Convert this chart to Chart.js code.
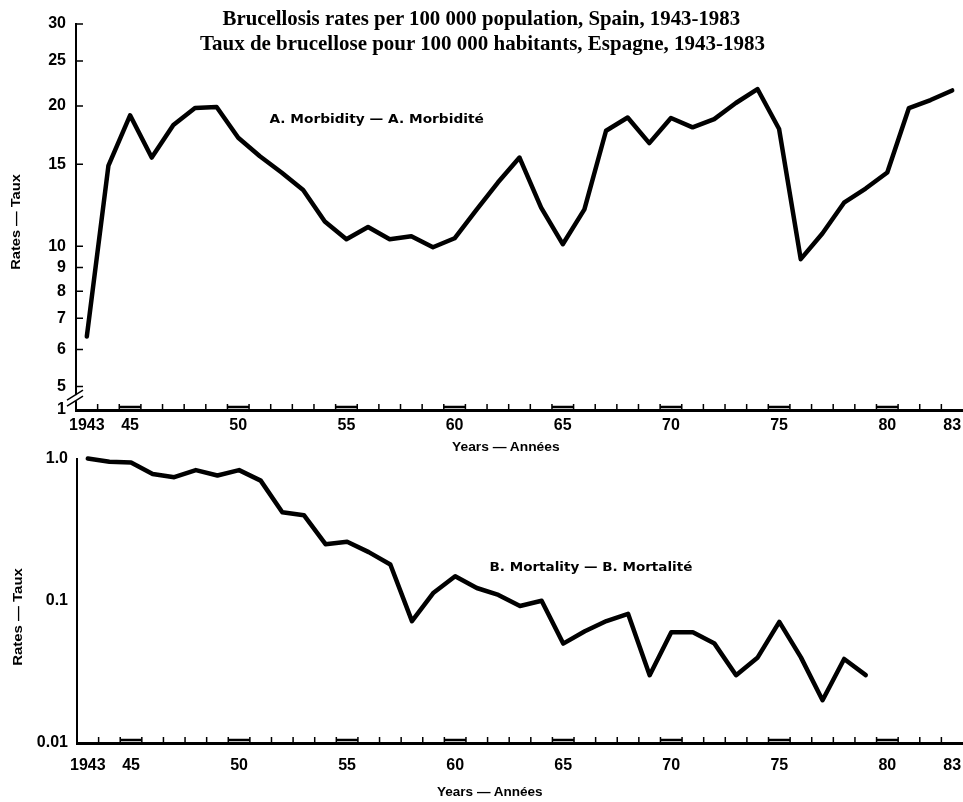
<!DOCTYPE html>
<html>
<head>
<meta charset="utf-8">
<script src="https://cdn.jsdelivr.net/npm/chart.js@4.4.0/dist/chart.umd.min.js"></script>
<style>
  body { margin: 0; background: #fff; }
  #page { position: relative; width: 963px; height: 802px; overflow: hidden; }
  .txt { position: absolute; white-space: nowrap; color: #000; transform-origin: 50% 50%; line-height: 1; }
  .title { font: bold 22px "Liberation Serif", serif; }
  .note { font: bold 12px "DejaVu Sans", sans-serif; }
  .axis { font: bold 12px "Liberation Sans", sans-serif; }
  canvas { position: absolute; left: 0; }
</style>
</head>
<body>
<div id="page">
  <canvas id="morbChart" width="963" height="440" style="top:0"></canvas>
  <canvas id="mortChart" width="963" height="362" style="top:440px"></canvas>
  <div class="txt title" id="title1">Brucellosis rates per 100 000 population, Spain, 1943-1983</div>
  <div class="txt title" id="title2">Taux de brucellose pour 100 000 habitants, Espagne, 1943-1983</div>
  <div class="txt note" id="noteA">A. Morbidity — A. Morbidité</div>
  <div class="txt note" id="noteB">B. Mortality — B. Mortalité</div>
  <div class="txt axis" id="yearsA">Years — Années</div>
  <div class="txt axis" id="yearsB">Years — Années</div>
  <div class="txt axis" id="ratesA">Rates — Taux</div>
  <div class="txt axis" id="ratesB">Rates — Taux</div>
</div>
<script>
'use strict';

let years = [1943, 1944, 1945, 1946, 1947, 1948, 1949, 1950, 1951, 1952,
  1953, 1954, 1955, 1956, 1957, 1958, 1959, 1960, 1961, 1962,
  1963, 1964, 1965, 1966, 1967, 1968, 1969, 1970, 1971, 1972,
  1973, 1974, 1975, 1976, 1977, 1978, 1979, 1980, 1981, 1982, 1983];

// A. morbidity per 100 000, 1943-1983
let morbidity = [6.4, 14.9, 19.1, 15.5, 18.2, 19.8, 19.9, 17.1, 15.6, 14.4,
  13.2, 11.3, 10.35, 11.0, 10.35, 10.5, 9.95, 10.4, 11.95, 13.7,
  15.5, 12.1, 10.1, 12.0, 17.7, 18.9, 16.65, 18.85, 18.0, 18.75,
  20.3, 21.75, 17.85, 9.38, 10.65, 12.4, 13.3, 14.4, 19.8, 20.6, 21.6];

// B. mortality per 100 000, 1943-1979
let mortality = [1.0, 0.95, 0.94, 0.78, 0.74, 0.83, 0.76, 0.83, 0.70, 0.42,
  0.40, 0.25, 0.26, 0.22, 0.18, 0.072, 0.114, 0.149, 0.123, 0.110,
  0.092, 0.10, 0.050, 0.061, 0.072, 0.081, 0.030, 0.060, 0.060, 0.050,
  0.030, 0.040, 0.071, 0.040, 0.020, 0.039, 0.030];

let yearTicks = [1943, 1945, 1950, 1955, 1960, 1965, 1970, 1975, 1980, 1983];
let morbTicks = [5, 6, 7, 8, 9, 10, 15, 20, 25, 30];
let morbBreakLabel = '1';
let mortTicks = [0.01, 0.1, 1];
let mortLabels = ['0.01', '0.1', '1.0'];

let tickFont = { family: 'Liberation Sans', weight: 'bold', size: 16 };

function yearLabel(v){
  return v === 1943 ? '1943' : String(v).slice(2);
}

// small inside ticks, 5-year brackets and the axis break
let decor = {
  id: 'decor',
  afterDraw(chart, args, o){
    let ctx = chart.ctx;
    let a = chart.chartArea;
    let x = chart.scales.x;
    let y = chart.scales.y;
    ctx.save();
    ctx.strokeStyle = '#000';
    ctx.lineWidth = 1.5;
    ctx.beginPath();
    years.slice(0, -1).forEach(yr => {
      let px = x.getPixelForValue(yr + 0.5);
      ctx.moveTo(px, a.bottom);
      ctx.lineTo(px, a.bottom - o.tick);
    });
    ctx.stroke();

    ctx.lineWidth = 2.5;
    ctx.beginPath();
    yearTicks.slice(1, -1).forEach(yr => {
      ctx.moveTo(x.getPixelForValue(yr - 0.5), a.bottom - 3);
      ctx.lineTo(x.getPixelForValue(yr + 0.5), a.bottom - 3);
    });
    ctx.stroke();

    if (o.yTicks){
      ctx.lineWidth = 1.5;
      ctx.beginPath();
      o.yTicks.forEach(v => {
        let py = y.getPixelForValue(v);
        ctx.moveTo(a.left, py);
        ctx.lineTo(a.left + 7, py);
      });
      ctx.stroke();
    }

    if (o.breakAt){
      let py = y.getPixelForValue(o.breakAt);
      ctx.strokeStyle = '#fff';
      ctx.lineWidth = 5;
      ctx.beginPath();
      ctx.moveTo(a.left, py - 3);
      ctx.lineTo(a.left, py + 3);
      ctx.stroke();
      ctx.strokeStyle = '#000';
      ctx.lineWidth = 1.5;
      ctx.beginPath();
      [-3, 3].forEach(d => {
        ctx.moveTo(a.left - 9, py + d + 5);
        ctx.lineTo(a.left + 7, py + d - 5);
      });
      ctx.stroke();
    }
    ctx.restore();
  }
};

function xScale(labelPad, axisHeight){
  return {
    type: 'linear',
    min: 1942.5,
    max: 1983.5,
    afterBuildTicks: s => { s.ticks = yearTicks.map(v => ({ value: v })); },
    afterFit: s => {
      s.height = axisHeight;
      s.paddingLeft = 0;
      s.paddingRight = 0;
    },
    grid: { display: false, drawTicks: false },
    border: { display: true, color: '#000', width: 3 },
    ticks: {
      callback: yearLabel,
      font: tickFont,
      color: '#000',
      padding: labelPad,
      maxRotation: 0,
      autoSkip: false
    }
  };
}

function lineSet(values){
  return {
    data: values.map((v, i) => ({ x: years[i], y: v })),
    borderColor: '#000',
    borderWidth: 4.5,
    borderJoinStyle: 'round',
    borderCapStyle: 'round',
    pointRadius: 0,
    tension: 0,
    clip: false
  };
}

let commonOpts = {
  responsive: false,
  animation: false,
  events: [],
  plugins: { legend: { display: false }, tooltip: { enabled: false } }
};

new Chart(document.getElementById('morbChart'), {
  type: 'line',
  data: { datasets: [lineSet(morbidity)] },
  plugins: [decor],
  options: Object.assign({}, commonOpts, {
    layout: { padding: { top: 24, left: 0, right: 0, bottom: 0 } },
    plugins: Object.assign({}, commonOpts.plugins, { decor: { tick: 6, yTicks: morbTicks, breakAt: 4.72 } }),
    scales: {
      x: xScale(6, 30),
      y: {
        type: 'logarithmic',
        min: 4.45,
        max: 30,
        afterBuildTicks: s => { s.ticks = [4.45].concat(morbTicks).map(v => ({ value: v })); },
        afterFit: s => { s.width = 76; },
        grid: { display: false, drawTicks: false },
        border: { display: true, color: '#000', width: 2 },
        ticks: {
          callback: (v, i) => i === 0 ? morbBreakLabel : String(v),
          font: tickFont,
          color: '#000',
          padding: 10,
          autoSkip: false
        }
      }
    }
  })
});

new Chart(document.getElementById('mortChart'), {
  type: 'line',
  data: { datasets: [lineSet(mortality)] },
  plugins: [decor],
  options: Object.assign({}, commonOpts, {
    layout: { padding: { top: 13, left: 0, right: 0, bottom: 0 } },
    plugins: Object.assign({}, commonOpts.plugins, { decor: { tick: 6 } }),
    scales: {
      x: xScale(13, 59),
      y: {
        type: 'logarithmic',
        min: 0.01,
        max: 1,
        afterBuildTicks: s => { s.ticks = mortTicks.map(v => ({ value: v })); },
        afterFit: s => { s.width = 77; },
        grid: { display: false, drawTicks: false },
        border: { display: true, color: '#000', width: 2 },
        ticks: {
          callback: (v, i) => mortLabels[i],
          font: tickFont,
          color: '#000',
          padding: 9,
          autoSkip: false
        }
      }
    }
  })
});

// place a text centred on (cx, cy), squeezed or stretched to the given length
function place(id, cx, cy, len, rotated){
  let el = document.getElementById(id);
  let w = el.offsetWidth;
  let h = el.offsetHeight;
  el.style.left = (cx - w / 2) + 'px';
  el.style.top = (cy - h / 2) + 'px';
  el.style.transform = (rotated ? 'rotate(-90deg) ' : '') + 'scaleX(' + (len / w) + ')';
}

place('title1', 481, 18, 518);
place('title2', 482.5, 43, 565);
place('noteA', 376, 119, 214);
place('noteB', 590.5, 567, 203);
place('yearsA', 506, 447, 108);
place('yearsB', 490, 792, 106);
place('ratesA', 16, 222, 95, true);
place('ratesB', 18, 617, 97, true);
</script>
</body>
</html>
